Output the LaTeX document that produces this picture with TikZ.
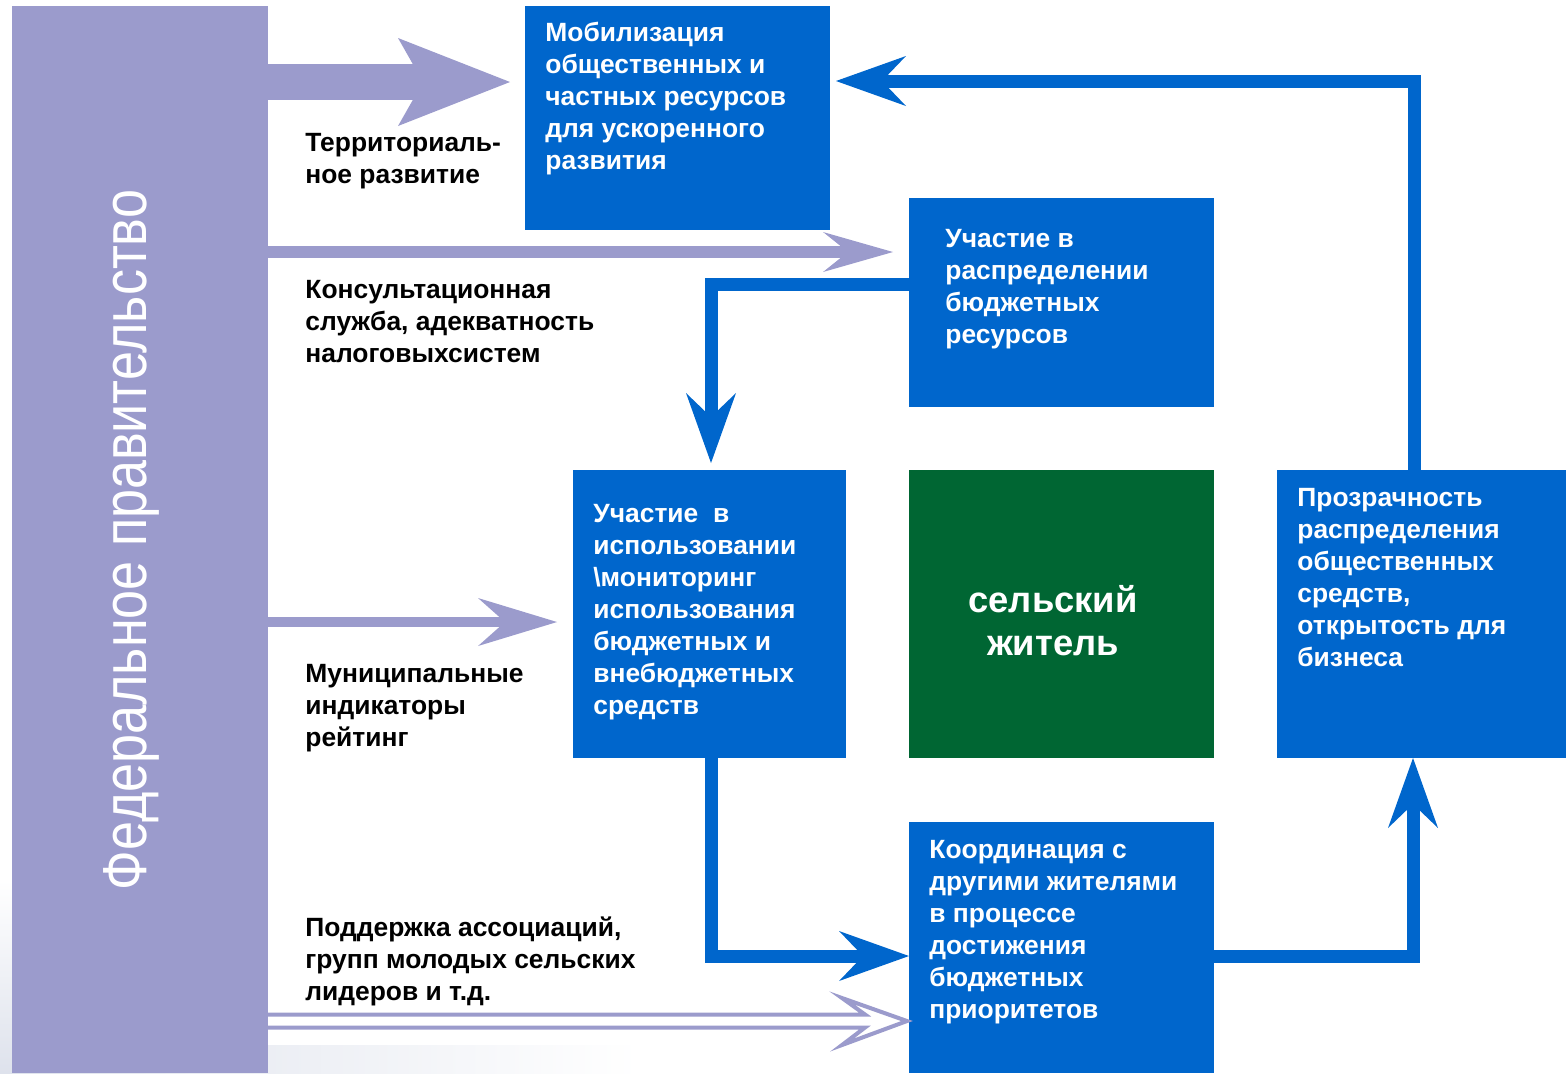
\documentclass[tikz,border=0pt]{standalone}
\usepackage{fontspec}
\setmainfont{Liberation Sans}
\usetikzlibrary{arrows.meta,calc}
\definecolor{fedpurple}{RGB}{155,155,204}
\definecolor{boxblue}{RGB}{0,102,204}
\definecolor{boxgreen}{RGB}{0,102,51}
\definecolor{fadegrey}{RGB}{222,226,236}
\begin{document}
\begin{tikzpicture}[x=0.5pt,y=-0.5pt,
  panel/.style={anchor=north west, inner sep=0pt, outer sep=0pt},
  bluebox/.style={panel, fill=boxblue},
  boxtext/.style={text=white, font=\fontsize{13.2pt}{16pt}\selectfont\bfseries, align=left, inner sep=0pt, anchor=base west},
  labeltext/.style={text=black, font=\fontsize{13.2pt}{16pt}\selectfont\bfseries, align=left, inner sep=0pt, anchor=base west},
  bluearrow/.style={draw=boxblue, line width=6.5pt, line join=miter,
    -{Stealth[length=35pt, width=25pt, inset=12pt, line width=0pt]}}
]
\useasboundingbox (0,0) rectangle (1566,1073);
% faint background shading
\shade[left color=fadegrey, right color=white] (0,1045) rectangle (640,1073);
\shade[top color=white, bottom color=fadegrey] (0,880) rectangle (12,1073);

% boxes
\node[panel, fill=fedpurple, minimum width=128pt, minimum height=533.5pt] (bar) at (12,6) {};
\node[bluebox, minimum width=152.5pt, minimum height=112pt] (b1) at (525,6) {};
\node[bluebox, minimum width=152.5pt, minimum height=104.5pt] (b2) at (909,198) {};
\node[bluebox, minimum width=136.5pt, minimum height=144pt] (b3) at (573,470) {};
\node[panel, fill=boxgreen, minimum width=152.5pt, minimum height=144pt] (g) at (909,470) {};
\node[bluebox, minimum width=144.5pt, minimum height=144pt] (b4) at (1277,470) {};
\node[bluebox, minimum width=152.5pt, minimum height=125.5pt] (b5) at (909,822) {};

% title
\node[rotate=90, anchor=base, text=white, inner sep=0pt] (title) at (146,540)
  {\scalebox{0.84}[1]{\fontsize{31pt}{31pt}\selectfont Федеральное правительство}};

% box texts (anchored at the baseline of the last line)
\node[boxtext] (t1) at (545,169) {Мобилизация\\общественных и\\частных ресурсов\\для ускоренного\\развития};
\node[boxtext] (t2) at (945,343) {Участие в\\распределении\\бюджетных\\ресурсов};
\node[boxtext] (t3) at (593,714) {Участие\ \ в\\использовании\\\textbackslash мониторинг\\использования\\бюджетных и\\внебюджетных\\средств};
\node[boxtext] (t4) at (1297,666) {Прозрачность\\распределения\\общественных\\средств,\\открытость для\\бизнеса};
\node[boxtext] (t5) at (929,1018) {Координация с\\другими жителями\\в процессе\\достижения\\бюджетных\\приоритетов};
\node[text=white, font=\fontsize{18.2pt}{21.5pt}\selectfont\bfseries, align=center, inner sep=0pt] (tg) at (1053,621) {сельский\\житель};

% labels
\node[labeltext] (l1) at (305,183) {Территориаль-\\ное развитие};
\node[labeltext] (l2) at (305,362) {Консультационная\\служба, адекватность\\налоговыхсистем};
\node[labeltext] (l3) at (305,746) {Муниципальные\\индикаторы\\рейтинг};
\node[labeltext] (l4) at (305,1000) {Поддержка ассоциаций,\\групп молодых сельских\\лидеров и т.д.};

% purple arrows from the federal government bar
\coordinate (y1) at (0,82);
\coordinate (y2) at (0,252);
\coordinate (y3) at (0,622);
\coordinate (y4) at (0,1021);
\draw[draw=fedpurple, line width=18pt, -{Stealth[length=56pt, width=44pt, inset=12.5pt, line width=0pt]}]
  (bar.east |- y1) -- ([xshift=-7.5pt]b1.west |- y1);
\draw[draw=fedpurple, line width=6pt, -{Stealth[length=35pt, width=20pt, inset=12.5pt, line width=0pt]}]
  (bar.east |- y2) -- ([xshift=-8pt]b2.west |- y2);
\draw[draw=fedpurple, line width=5pt, -{Stealth[length=39.5pt, width=24pt, inset=13.5pt, line width=0pt]}]
  (bar.east |- y3) -- ([xshift=-8pt]b3.west |- y3);
\draw[draw=fedpurple, line width=2pt, fill=white, line join=miter]
  ($(bar.east |- y4)+(0,-6.5)$) -- ($(b5.west |- y4)+(-44,-6.5)$) -- ($(b5.west |- y4)+(-67,-23)$)
  -- ($(b5.west |- y4)+(-2,0)$) -- ($(b5.west |- y4)+(-67,24)$) -- ($(b5.west |- y4)+(-44,6.5)$)
  -- ($(bar.east |- y4)+(0,6.5)$);

% blue connectors
\coordinate (c1) at (711,284);
\coordinate (c2) at (1414,81);
\coordinate (c3) at (711,956);
\coordinate (c4) at (1413,956);
\draw[bluearrow, shorten >=3.5pt] (b2.west |- c1) -- (c1) -- (c1 |- b3.north);
\draw[bluearrow, shorten >=3pt] (b4.north -| c2) -- (c2) -- (b1.east |- c2);
\draw[bluearrow] (b3.south -| c3) -- (c3) -- (b5.west |- c3);
\draw[bluearrow] (b5.east |- c4) -- (c4) -- (c4 |- b4.south);
\end{tikzpicture}
\end{document}
